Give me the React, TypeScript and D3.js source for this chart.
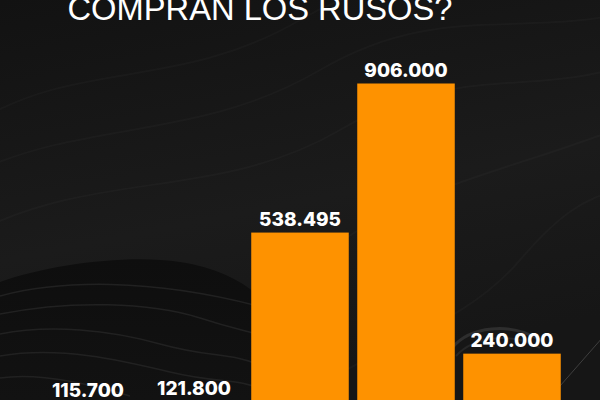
import * as React from 'react';
import * as d3 from 'd3';

// chart data
const categories = ['A', 'B', 'C', 'D', 'E'];
const values = [115700, 121800, 538495, 906000, 240000];
const valueLabels = ['115.700', '121.800', '538.495', '906.000', '240.000'];
const title = 'COMPRAN LOS RUSOS?';

const width = 600;
const height = 400;
const barColor = '#fe9200';

// background texture strokes (decoration only)
const texture = [
  'M-20,120 C80,60 180,90 300,20 S520,-10 640,-40',
  'M-20,170 C90,120 200,140 320,70 S520,40 640,10',
  'M-20,230 C100,170 220,200 340,130 S540,100 640,60',
  'M60,400 C140,330 240,320 330,250 S520,170 640,120',
  'M300,400 C380,340 460,330 520,260 S600,200 640,180',
];

const moundLayers = [
  'M0,296 C60,280 150,278 258,306',
  'M0,314 C70,300 150,302 200,318 S250,330 262,338',
  'M0,334 C50,324 110,330 160,344 S230,352 262,366',
  'M0,356 C60,346 120,360 170,372 S240,378 262,390',
  'M0,378 C40,372 90,384 130,396',
];

const App = () => {
  // band scale gives ~106px step and ~97px bars
  const x = d3.scaleBand()
    .domain(categories)
    .range([35, 565])
    .paddingInner(0.08)
    .paddingOuter(0.04);

  // baseline sits below the visible area
  const y = d3.scaleLinear()
    .domain([0, d3.max(values)])
    .range([451, 83.5]);

  return (
    <div style={{ position: 'absolute', left: 0, top: 0 }}>
      <svg width={width} height={height} style={{ display: 'block' }}>
        <defs>
          <linearGradient id="bg" x1="0" y1="0" x2="0.3" y2="1">
            <stop offset="0%" stopColor="#121212" />
            <stop offset="60%" stopColor="#1b1b1b" />
            <stop offset="100%" stopColor="#161616" />
          </linearGradient>
          <linearGradient id="mound" x1="0" y1="0" x2="0" y2="1">
            <stop offset="0%" stopColor="#0e0e0e" />
            <stop offset="100%" stopColor="#121212" />
          </linearGradient>
        </defs>

        <rect width={width} height={height} fill="url(#bg)" />

        {/* subtle wavy texture */}
        {texture.map((d, i) => (
          <path key={i} d={d} fill="none" stroke="#ffffff" strokeOpacity={0.025} strokeWidth={2} />
        ))}

        {/* dark layered mound, bottom left */}
        <path
          d="M0,282 C50,264 130,254 180,262 C220,268 248,284 262,300 L262,400 L0,400 Z"
          fill="url(#mound)"
        />
        {moundLayers.map((d, i) => (
          <path key={i} d={d} fill="none" stroke="#262626" strokeOpacity={0.8} strokeWidth={1.5} />
        ))}

        {/* small arcs and line, bottom right */}
        <path d="M452,348 C470,326 510,322 540,340" fill="none" stroke="#2e2e2e" strokeWidth={3} />
        <path d="M456,356 C474,336 512,332 540,348" fill="none" stroke="#262626" strokeWidth={2} />
        <line x1={603} y1={337} x2={560} y2={386} stroke="#5a5a5a" strokeOpacity={0.6} strokeWidth={1} />

        {/* title, top is cut off */}
        <text
          x={260}
          y={19.5}
          textAnchor="middle"
          fill="#ffffff"
          fontFamily="Liberation Sans, Arial, sans-serif"
          fontSize={32.5}
          textLength={385}
          lengthAdjust="spacingAndGlyphs"
        >
          {title}
        </text>

        {/* bars */}
        {values.map((v, i) => (
          <rect
            key={categories[i]}
            x={x(categories[i])}
            y={y(v)}
            width={x.bandwidth()}
            height={y(0) - y(v)}
            fill={barColor}
          />
        ))}

        {/* value labels */}
        {values.map((v, i) => (
          <text
            key={`l${categories[i]}`}
            x={x(categories[i]) + x.bandwidth() / 2}
            y={y(v) - 7}
            textAnchor="middle"
            fill="#ffffff"
            fontFamily="Inter, sans-serif"
            fontWeight={800}
            fontSize={19}
          >
            {valueLabels[i]}
          </text>
        ))}
      </svg>
    </div>
  );
};

export default App;
